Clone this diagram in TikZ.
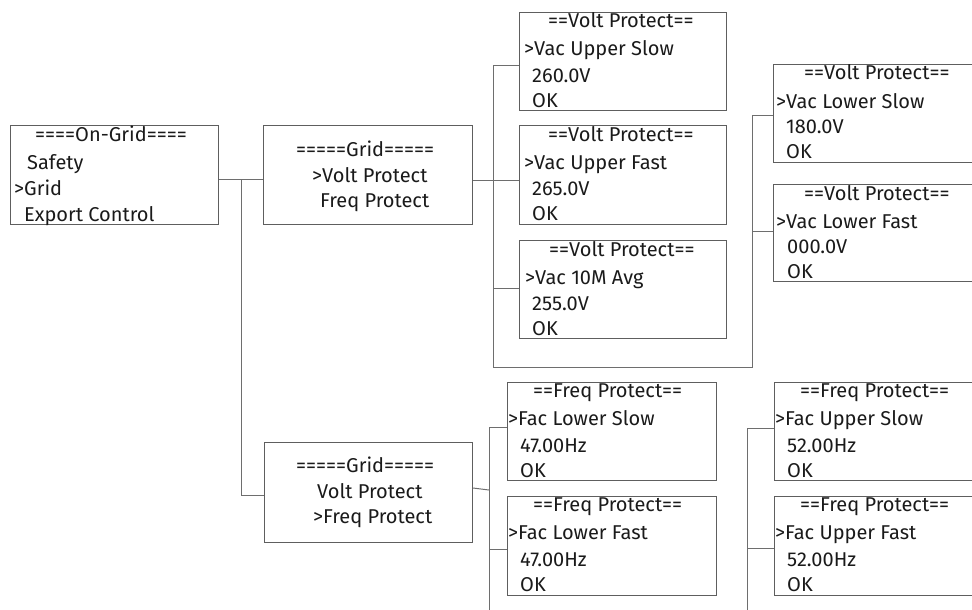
\documentclass[tikz,border=0pt]{standalone}
\usepackage{fontspec}
\setmainfont{Fira Sans}
\usetikzlibrary{calc}
\definecolor{boxgray}{HTML}{5E5E5E}
\definecolor{wiregray}{HTML}{6E6E6E}
\definecolor{txtblack}{HTML}{1A1A1A}
\newcommand\screenlines[2]{%
  \foreach \dx/\dy/\txt [count=\i] in {#2} {
    \node[ln] (#1-\i) at ([shift={(\dx,\dy)}]#1.north west) {\txt};
  }%
}
\begin{document}
\begin{tikzpicture}[x=1pt,y=-1pt,
  scr/.style={draw=boxgray, line width=1pt, inner sep=0pt, anchor=north west},
  ln/.style={anchor=base west, inner sep=0pt, text=txtblack, font=\fontsize{20}{22}\selectfont},
  wire/.style={draw=wiregray, line width=1pt}]
\useasboundingbox (0,0) rectangle (972,610);
\clip (0,0) rectangle (972,610);

% boxes
\node[scr, minimum width=208pt, minimum height=99pt] (og) at (10,125) {};
\node[scr, minimum width=209pt, minimum height=99pt] (g1) at (263,125) {};
\node[scr, minimum width=208pt, minimum height=100pt] (g2) at (264,442) {};
\node[scr, minimum width=207pt, minimum height=98pt] (v1) at (519,12) {};
\node[scr, minimum width=207pt, minimum height=99pt] (v2) at (519,125) {};
\node[scr, minimum width=207pt, minimum height=98pt] (v3) at (519,240) {};
\node[scr, minimum width=207pt, minimum height=98pt] (v4) at (773,64) {};
\node[scr, minimum width=207pt, minimum height=97pt] (v5) at (773,184) {};
\node[scr, minimum width=209pt, minimum height=98pt] (f1) at (507,382) {};
\node[scr, minimum width=209pt, minimum height=99pt] (f2) at (507,496) {};
\node[scr, minimum width=209pt, minimum height=98pt] (f3) at (774,382) {};
\node[scr, minimum width=209pt, minimum height=99pt] (f4) at (774,496) {};

% texts
\screenlines{og}{25/16/====On-Grid====, 17/44/Safety, 4/70/>Grid, 14/96/Export Control}
\screenlines{g1}{33/31/=====Grid=====, 49/57/>Volt Protect, 57/82/Freq Protect}
\screenlines{g2}{32/30/=====Grid=====, 53/56/Volt Protect, 49/81/>Freq Protect}
\screenlines{v1}{29/16/==Volt Protect==, 5/44/>Vac Upper Slow, 13/70/260.0V, 13/95/OK}
\screenlines{v2}{29/16/==Volt Protect==, 5/44/>Vac Upper Fast, 13/70/265.0V, 13/95/OK}
\screenlines{v3}{30/16/==Volt Protect==, 6/44/>Vac 10M Avg, 13/70/255.0V, 13/95/OK}
\screenlines{v4}{31/16/==Volt Protect==, 3/44/>Vac Lower Slow, 13/69/180.0V, 13/94/OK}
\screenlines{v5}{31/16/==Volt Protect==, 3/44/>Vac Lower Fast, 14/69/000.0V, 14/94/OK}
\screenlines{f1}{26/15/==Freq Protect==, 1/43/>Fac Lower Slow, 13/70/47.00Hz, 13/95/OK}
\screenlines{f2}{26/15/==Freq Protect==, 1/43/>Fac Lower Fast, 13/70/47.00Hz, 13/95/OK}
\screenlines{f3}{26/15/==Freq Protect==, 1/43/>Fac Upper Slow, 13/70/52.00Hz, 13/95/OK}
\screenlines{f4}{26/15/==Freq Protect==, 1/43/>Fac Upper Fast, 13/70/52.00Hz, 13/95/OK}

% connectors, upper part
\coordinate (ja) at (241,179);
\coordinate (jb) at (241,495);
\draw[wire] (og.east |- ja) -- (g1.west |- ja);
\draw[wire] (ja) -- (jb) -- (g2.west |- jb);
\coordinate (k1) at (493,66);
\coordinate (k2) at (493,180);
\coordinate (k3) at (493,288);
\coordinate (k4) at (493,367);
\coordinate (k5) at (752,367);
\coordinate (k6) at (752,115);
\coordinate (k7) at (752,231);
\draw[wire] (g1.east |- k2) -- (v2.west |- k2);
\draw[wire] (v1.west |- k1) -- (k1) -- (k4) -- (k5) -- (k6) -- (v4.west |- k6);
\draw[wire] (k3) -- (v3.west |- k3);
\draw[wire] (k7) -- (v5.west |- k7);

% connectors, lower part
\coordinate (m0) at (472,488);
\coordinate (m1) at (489,490);
\coordinate (m2) at (489,427);
\coordinate (m3) at (489,549);
\coordinate (m4) at (489,615);
\draw[wire] (g2.east |- m0) -- (m1);
\draw[wire] (f1.west |- m2) -- (m2) -- (m4);
\draw[wire] (m3) -- (f2.west |- m3);
\coordinate (n1) at (747,428);
\coordinate (n2) at (747,548);
\coordinate (n3) at (747,615);
\draw[wire] (f3.west |- n1) -- (n1) -- (n3);
\draw[wire] (n2) -- (f4.west |- n2);
\end{tikzpicture}
\end{document}
